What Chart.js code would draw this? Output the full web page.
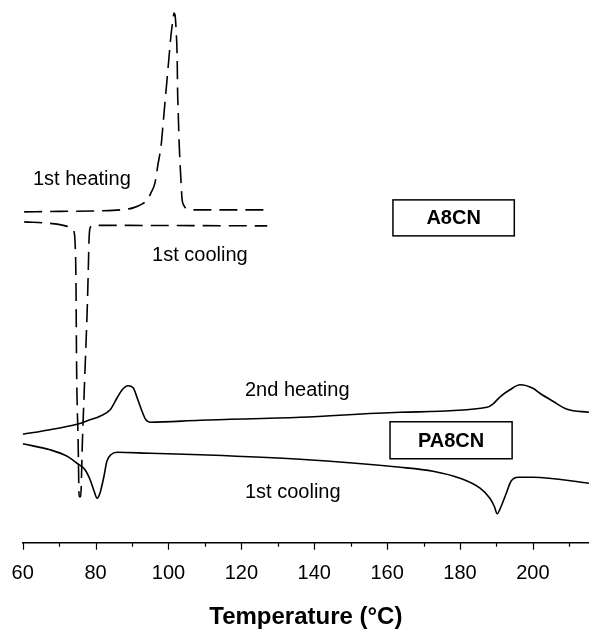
<!DOCTYPE html>
<html>
<head>
<meta charset="utf-8">
<script src="https://cdn.jsdelivr.net/npm/chart.js@4.4.1/dist/chart.umd.min.js"></script>
<style>
  html, body { margin: 0; padding: 0; background: #fff; }
</style>
</head>
<body>
<canvas id="dsc" width="589" height="629"></canvas>
<script>
// DSC traces: temperature (°C) and heat flow (arbitrary units, endo up)

// A8CN, 1st heating (dashed)
const a8HeatT = [60.4, 70.2, 81.2, 86.7, 90.3, 92.8, 94.1, 95.2, 96.3, 97.1, 98.0, 98.5, 99.1, 99.6, 100.2, 100.7,
  101.3, 101.5, 101.8, 102.1, 102.4, 102.5, 102.7, 102.9, 103.2, 103.5, 103.7, 104.3, 105.1, 107.3, 127.1];
const a8HeatY = [66.2, 66.3, 66.4, 66.6, 67.0, 67.8, 68.6, 70.0, 72.0, 75.6, 79.6, 83.6, 88.6, 92.6, 97.6, 101.6,
  105.0, 106.0, 105.6, 102.6, 96.6, 90.6, 85.6, 80.6, 75.6, 71.6, 69.0, 67.4, 66.8, 66.6, 66.6];

// A8CN, 1st cooling (dashed)
const a8CoolT = [60.4, 67.5, 72.2, 73.3, 74.1, 74.4, 74.6, 74.8, 75.2, 75.5, 75.9, 76.4, 77.1, 77.7, 78.0, 78.2,
  78.5, 79.3, 81.2, 127.1];
const a8CoolY = [64.2, 63.9, 63.3, 62.9, 62.2, 59.6, 53.6, 34.6, 20.6, 9.2, 9.2, 20.6, 34.6, 46.6, 54.6, 60.6,
  63.0, 63.5, 63.5, 63.4];

// PA8CN, 2nd heating (solid)
const pa8HeatT = [60.0, 67.5, 74.9, 78.5, 81.2, 84.0, 85.9, 87.3, 88.9, 90.3, 91.6, 92.8, 93.8, 94.9, 108.7, 136.1,
  163.5, 187.4, 189.1, 191.0, 193.7, 196.5, 200.0, 201.9, 205.5, 209.4, 215.4];
const pa8HeatY = [21.7, 22.6, 23.7, 24.6, 25.3, 26.6, 29.0, 30.6, 31.4, 31.0, 28.6, 26.2, 24.6, 24.1, 24.5, 25.1,
  26.1, 27.1, 27.8, 29.2, 30.6, 31.6, 30.9, 29.9, 28.3, 26.7, 26.1];

// PA8CN, 1st cooling (solid)
const pa8CoolT = [60.0, 67.5, 72.2, 74.9, 77.1, 78.5, 79.6, 80.4, 81.2, 82.3, 83.1, 84.2, 85.9, 94.9, 108.7, 136.1,
  163.6, 172.6, 180.0, 185.5, 188.2, 189.4, 190.2, 191.3, 192.7, 194.0, 196.0, 200.1, 215.4];
const pa8CoolY = [19.8, 18.6, 17.3, 15.9, 14.6, 12.6, 10.3, 8.9, 9.9, 13.3, 16.3, 17.6, 18.1, 17.9, 17.6, 16.7,
  15.1, 14.3, 12.9, 10.9, 8.9, 7.3, 5.8, 7.3, 9.9, 12.3, 13.1, 13.1, 11.9];

const tickValues = [60, 70, 80, 90, 100, 110, 120, 130, 140, 150, 160, 170, 180, 190, 200, 210];
const tickLabels = ['60', '', '80', '', '100', '', '120', '', '140', '', '160', '', '180', '', '200', ''];

const pts = (xs, ys) => xs.map((v, i) => ({x: v, y: ys[i]}));

Chart.defaults.font.family = '"Liberation Sans", Arial, sans-serif';
Chart.defaults.color = '#000';

// tick marks, curve labels and the two sample boxes
const extras = {
  id: 'extras',
  afterDraw(chart) {
    const {ctx, chartArea} = chart;
    const x = chart.scales.x, y = chart.scales.y;
    ctx.save();
    ctx.strokeStyle = '#000';
    ctx.lineWidth = 1.2;
    tickValues.forEach((v, i) => {
      const px = Math.round(x.getPixelForValue(v)) + 0.5;
      const len = tickLabels[i] ? 7 : 4;
      ctx.beginPath();
      ctx.moveTo(px, chartArea.bottom);
      ctx.lineTo(px, chartArea.bottom + len);
      ctx.stroke();
    });

    ctx.fillStyle = '#000';
    ctx.font = '20px "Liberation Sans", Arial, sans-serif';
    ctx.textAlign = 'left';
    ctx.textBaseline = 'middle';
    [['1st heating', 62.8, 72.6], ['1st cooling', 95.5, 57.4],
     ['2nd heating', 121.0, 30.5], ['1st cooling', 121.0, 10.1]].forEach(([t, tx, ty]) => {
      ctx.fillText(t, x.getPixelForValue(tx), y.getPixelForValue(ty));
    });

    ctx.lineWidth = 1.5;
    ctx.font = 'bold 20px "Liberation Sans", Arial, sans-serif';
    ctx.textAlign = 'center';
    [['A8CN', 161.6, 194.9, 68.6, 61.4], ['PA8CN', 160.8, 194.3, 24.2, 16.8]].forEach(([t, x0, x1, y0, y1]) => {
      const l = x.getPixelForValue(x0), r = x.getPixelForValue(x1);
      const tp = y.getPixelForValue(y0), bt = y.getPixelForValue(y1);
      ctx.strokeRect(l, tp, r - l, bt - tp);
      ctx.fillText(t, (l + r) / 2, (tp + bt) / 2 + 1);
    });
    ctx.restore();
  }
};

const dashed = [18, 8];

new Chart(document.getElementById('dsc'), {
  type: 'line',
  data: {
    datasets: [
      {label: 'A8CN 1st heating', data: pts(a8HeatT, a8HeatY), borderDash: dashed},
      {label: 'A8CN 1st cooling', data: pts(a8CoolT, a8CoolY), borderDash: dashed},
      {label: 'PA8CN 2nd heating', data: pts(pa8HeatT, pa8HeatY)},
      {label: 'PA8CN 1st cooling', data: pts(pa8CoolT, pa8CoolY)}
    ]
  },
  options: {
    responsive: false,
    animation: false,
    devicePixelRatio: 1,
    layout: {padding: {left: 22.7, right: 0, top: 0, bottom: 0}},
    elements: {
      line: {borderColor: '#000', borderWidth: 1.6, cubicInterpolationMode: 'monotone', fill: false},
      point: {radius: 0}
    },
    scales: {
      x: {
        type: 'linear',
        position: 'bottom',
        min: 60,
        max: 215.4,
        afterBuildTicks: s => { s.ticks = tickValues.map(v => ({value: v})); },
        ticks: {
          padding: 0,
          maxRotation: 0,
          autoSkip: false,
          font: {size: 20},
          callback: (v, i) => tickLabels[i]
        },
        grid: {display: true, drawOnChartArea: false, drawTicks: true, tickLength: 19, color: 'rgba(0,0,0,0)'},
        border: {display: true, color: '#000', width: 1.5},
        title: {
          display: true,
          text: 'Temperature (°C)',
          font: {size: 24, weight: 'bold', lineHeight: 1},
          padding: {top: 19.3, bottom: 0}
        }
      },
      y: {
        display: false,
        min: 0,
        max: 108.6
      }
    },
    plugins: {
      legend: {display: false},
      tooltip: {enabled: false}
    }
  },
  plugins: [extras]
});
</script>
</body>
</html>
